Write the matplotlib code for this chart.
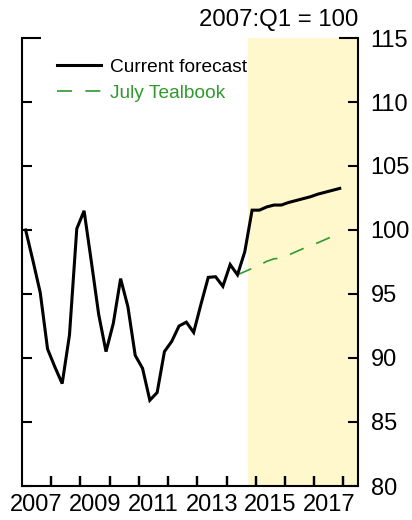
import matplotlib
matplotlib.use("Agg")
import matplotlib.pyplot as plt
import numpy as np
import pandas as pd
from matplotlib.ticker import FixedLocator, NullFormatter, FixedFormatter

plt.rcParams['font.family'] = ['Liberation Sans', 'DejaVu Sans']

# Quarterly data, 2007:Q1 = 100
quarters = pd.period_range('2007Q1', '2017Q4', freq='Q')
current_forecast = [
    100.0, 97.6, 95.1, 90.7, 89.3, 88.0, 91.8, 100.1, 101.5, 97.5,
    93.4, 90.5, 92.7, 96.2, 94.0, 90.2, 89.2, 86.7, 87.3, 90.5,
    91.3, 92.5, 92.8, 92.0, 94.2, 96.3, 96.35, 95.6, 97.3, 96.5,
    98.3, 101.55, 101.55, 101.8, 101.95, 101.95, 102.15, 102.3, 102.45, 102.6,
    102.8, 102.95, 103.1, 103.25,
]
july_start = '2014Q2'
july_tealbook = [
    96.5, 96.75, 97.0, 97.25, 97.55, 97.75, 97.8, 98.05, 98.3, 98.55,
    98.8, 99.0, 99.25, 99.5, 99.7,
]
shade_start = 2014.75
shade_end = 2018.5
year_labels = ['2007', '2009', '2011', '2013', '2015', '2017']
year_ticks = list(range(2008, 2019))
y_ticks = [80, 85, 90, 95, 100, 105, 110, 115]

def decimal_year(periods):
    return np.array([p.year + (p.quarter - 0.5) / 4.0 for p in periods])

x_cur = decimal_year(quarters)
jt_periods = pd.period_range(july_start, periods=len(july_tealbook), freq='Q')
x_jt = decimal_year(jt_periods)

fig = plt.figure(figsize=(4.12, 5.20), dpi=100)
ax = fig.add_axes([22/412, 34/520, 336/412, 448/520])

green = '#2e9a2e'
ax.axvspan(shade_start, shade_end, color='#fff8cc', lw=0, zorder=0)
ax.plot(x_cur, current_forecast, color='black', lw=2.2, label='Current forecast',
        solid_joinstyle='miter', zorder=3)
ax.plot(x_jt, july_tealbook, color=green, lw=1.2, dashes=(9, 8), label='July Tealbook',
        zorder=2)

ax.set_xlim(2007.0, 2018.5)
ax.set_ylim(80, 115)

ax.spines['top'].set_visible(False)
for s in ['left', 'right', 'bottom']:
    ax.spines[s].set_linewidth(1.5)

# x axis: labels at mid-year (no tick mark), tick marks at year boundaries
ax.xaxis.set_major_locator(FixedLocator([int(y) + 0.5 for y in year_labels]))
ax.xaxis.set_major_formatter(FixedFormatter(year_labels))
ax.xaxis.set_minor_locator(FixedLocator(year_ticks))
ax.xaxis.set_minor_formatter(NullFormatter())
ax.tick_params(axis='x', which='major', length=0, labelsize=17, pad=6)
ax.tick_params(axis='x', which='minor', bottom=True, direction='in', length=7.5,
               width=1.6, color='black')
ax.vlines(year_ticks, 0, 10.5/448, transform=ax.get_xaxis_transform(),
          colors='black', lw=1.6, clip_on=False, zorder=4)

# y axis: ticks both sides, labels on right
ax.yaxis.set_major_locator(FixedLocator(y_ticks[:-1]))
ax.yaxis.set_minor_locator(FixedLocator(y_ticks[-1:]))
ax.yaxis.set_minor_formatter(FixedFormatter([str(y_ticks[-1])]))
ax.tick_params(axis='y', which='major', direction='in', length=7.2, width=1.5,
               left=True, right=True, labelleft=False, labelright=True,
               labelsize=17, pad=9)
ax.tick_params(axis='y', which='minor', direction='in', length=14, width=1.5,
               left=True, right=True, labelleft=False, labelright=True,
               labelsize=17, pad=9)

ax.text(1.0, 1.0 + 7/448, '2007:Q1 = 100', transform=ax.transAxes, ha='right',
        va='bottom', fontsize=17.3)

leg = ax.legend(loc='upper left', bbox_to_anchor=(35/336, 0.955), frameon=False,
                fontsize=13.8, handlelength=2.3, handletextpad=0.45,
                labelspacing=0.45, borderpad=0, borderaxespad=0)
for t in leg.get_texts():
    if t.get_text() == 'July Tealbook':
        t.set_color(green)

fig.savefig('out.png', dpi=100)
